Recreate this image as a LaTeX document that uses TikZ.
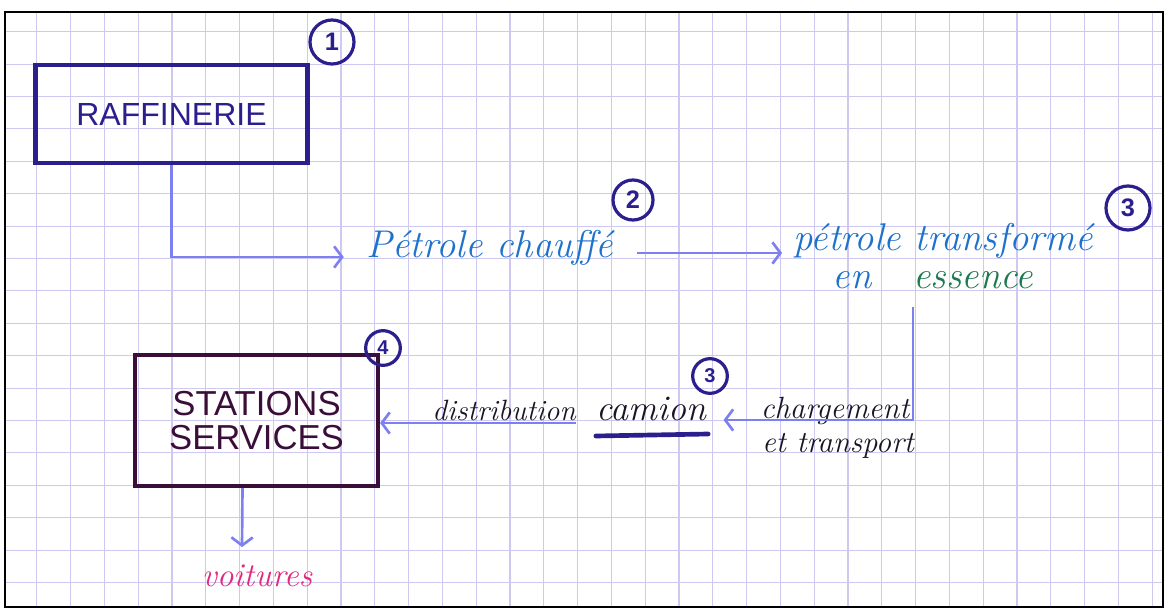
\documentclass[tikz,border=0pt]{standalone}
\usepackage{fontspec}
\newfontfamily\capsfont{Liberation Sans}
\usetikzlibrary{arrows.meta,calc}
\definecolor{navy}{HTML}{2B1F8E}
\definecolor{plum}{HTML}{3A0E38}
\definecolor{conn}{HTML}{7D80F0}
\definecolor{inkblue}{HTML}{1F72CC}
\definecolor{inkgreen}{HTML}{1E7A4E}
\definecolor{inkblack}{HTML}{1A1424}
\definecolor{inkpink}{HTML}{E0287E}
\definecolor{gridc}{HTML}{CFC8F0}
\begin{document}
\begin{tikzpicture}[x=0.75pt,y=-0.75pt,
  box/.style={draw, line width=3.4pt, align=center},
  num/.style={draw=navy, circle, line width=2.4pt, text=navy, inner sep=0pt, font=\capsfont\bfseries\fontsize{19}{19}\selectfont},
  link/.style={draw=conn, line width=2pt, -{Straight Barb[length=6pt,width=16pt]}},
  script/.style={inner sep=0pt, font=\itshape\fontsize{#1}{#1}\selectfont},
  script/.default=26,
  gridline/.style={draw=gridc, line width=0.8pt}]
\useasboundingbox (0,0) rectangle (1168,610);
\fill[white] (0,0) rectangle (1168,610);
% squared paper
\foreach \k in {1,...,34} \draw[gridline] ({3+33.8*\k},12) -- ({3+33.8*\k},607);
\foreach \k in {0,...,17} \draw[gridline] (5,{31.7+32.4*\k}) -- (1163,{31.7+32.4*\k});
\draw[black, line width=2.2pt] (5,12) rectangle (1163,607);

% boxes
\node[box, draw=navy, text=navy, minimum width=204pt, minimum height=73.5pt,
      font=\capsfont\fontsize{24}{24}\selectfont] (raff) at (171.5,114) {RAFFINERIE};
\node[num, minimum size=33pt] (n1) at (332,42) {1};

\node[box, draw=plum, text=plum, minimum width=182pt, minimum height=98pt,
      font=\capsfont\fontsize{26}{26}\selectfont] (stat) at (256.5,420.5) {STATIONS\\SERVICES};
\node[num, minimum size=26pt, font=\capsfont\bfseries\fontsize{15}{15}\selectfont] (n4) at (383,348) {4};

% texts
\node[script=29, text=inkblue, anchor=base] (pc) at (490,257) {Pétrole chauffé};
\node[num, minimum size=30pt] (n2) at (633,200) {2};

\node[script=29, text=inkblue, anchor=base] (pt) at (943,250) {pétrole transformé};
\node[script=29, text=inkblue, anchor=base] (en) at (852,288) {en};
\node[script=29, text=inkgreen, anchor=base west] (ess) at (913,288) {essence};
\node[num, minimum size=33pt] (n3) at (1128,208) {3};

\node[script=23, text=inkblack, anchor=base] (charg) at (835,418) {chargement};
\node[script=23, text=inkblack, anchor=base] (trans) at (838,452) {et transport};

\node[script=27, text=inkblack, anchor=base] (cam) at (651,420) {camion};
\node[num, minimum size=26pt, font=\capsfont\bfseries\fontsize{15}{15}\selectfont] (n3b) at (710,376) {3};
\node[script=22, text=inkblack, anchor=base east] (dist) at (576,420) {distribution};

\node[script=25, text=inkpink, anchor=base] (voit) at (257,586) {voitures};

% underline of camion
\draw[navy, line width=3.5pt, line cap=round] ($(cam.base west)+(0,16)$) -- ($(cam.base east)+(2,14)$);

% connectors
\draw[link, shorten >=17pt] (raff.south) |- (pc.base west);
\draw[link] ($(pc.base east)+(23,-4)$) -- ($(pt.base west |- pc.base)+(-11,-4)$);
\draw[link, shorten <=14pt, shorten >=13pt] (ess.south west) |- (cam.base east);
\draw[link] ($(dist.base east)+(0,3)$) -- ($(stat.east |- dist.base)+(0,3)$);
\draw[link] ($(stat.south)+(-14,0)$) -- ($(voit.north)+(-15,-17)$);
\end{tikzpicture}
\end{document}
